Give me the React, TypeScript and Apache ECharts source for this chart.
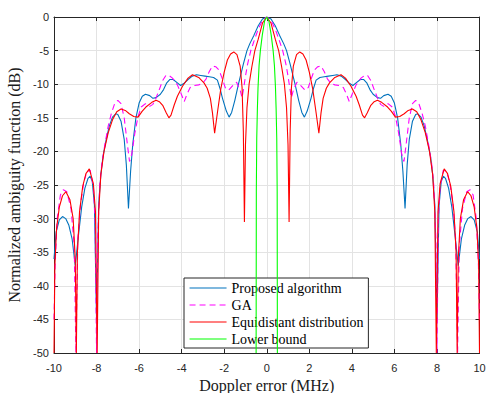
import React, { useEffect, useRef } from "react";
import * as echarts from "echarts";

const xTicks = { min: -10, max: 10, interval: 2 };
const yTicks = { min: -50, max: 0, interval: 5 };

const seriesNames = [
  "Proposed algorithm",
  "GA",
  "Equidistant distribution",
  "Lower bound",
];

const proposed: number[][] = [
  [-10.0, -36.0], [-9.9, -32.0], [-9.75, -30.2], [-9.6, -29.7], [-9.45, -30.0], [-9.3, -31.0], [-9.15, -33.0],
  [-9.0, -37.0], [-8.85, -32.5], [-8.7, -28.3], [-8.55, -25.5], [-8.4, -24.0], [-8.3, -23.7], [-8.2, -24.5],
  [-8.1, -28.0], [-8.0, -45.0], [-7.9, -28.0], [-7.8, -23.5], [-7.7, -20.8], [-7.55, -18.3], [-7.4, -16.2],
  [-7.25, -14.9], [-7.1, -14.4], [-7.0, -14.5], [-6.85, -15.5], [-6.7, -18.2], [-6.6, -22.0], [-6.5, -28.5],
  [-6.4, -23.0], [-6.3, -19.0], [-6.15, -15.0], [-6.0, -12.8], [-5.85, -11.8], [-5.7, -11.5], [-5.5, -11.7],
  [-5.35, -12.1], [-5.2, -12.0], [-5.0, -11.5], [-4.85, -10.8], [-4.7, -9.8], [-4.55, -9.3], [-4.4, -9.3],
  [-4.2, -9.8], [-4.05, -10.2], [-3.9, -9.9], [-3.7, -9.3], [-3.5, -8.8], [-3.3, -8.6], [-3.1, -8.7],
  [-2.9, -8.8], [-2.7, -8.9], [-2.5, -9.0], [-2.32, -9.4], [-2.2, -10.6], [-2.08, -12.1], [-1.9, -14.0],
  [-1.77, -14.9], [-1.65, -14.2], [-1.5, -12.4], [-1.33, -10.0], [-1.1, -7.0], [-0.93, -5.0], [-0.8, -4.0],
  [-0.6, -2.7], [-0.4, -1.3], [-0.2, -0.3],
  [0, 0],
  [0.2, -0.3], [0.4, -1.3], [0.6, -2.7], [0.8, -4.0], [0.93, -5.0], [1.1, -7.0], [1.33, -10.0], [1.5, -12.4],
  [1.65, -14.2], [1.77, -14.9], [1.9, -14.0], [2.08, -12.1], [2.2, -10.6], [2.32, -9.4], [2.5, -9.0],
  [2.7, -8.9], [2.9, -8.8], [3.1, -8.7], [3.3, -8.6], [3.5, -8.8], [3.7, -9.3], [3.9, -9.9], [4.05, -10.2],
  [4.2, -9.8], [4.4, -9.3], [4.55, -9.3], [4.7, -9.8], [4.85, -10.8], [5.0, -11.5], [5.2, -12.0],
  [5.35, -12.1], [5.5, -11.7], [5.7, -11.5], [5.85, -11.8], [6.0, -12.8], [6.15, -15.0], [6.3, -19.0],
  [6.4, -23.0], [6.5, -28.5], [6.6, -22.0], [6.7, -18.2], [6.85, -15.5], [7.0, -14.5], [7.1, -14.4],
  [7.25, -14.9], [7.4, -16.2], [7.55, -18.3], [7.7, -20.8], [7.8, -23.5], [7.9, -28.0], [8.0, -45.0],
  [8.1, -28.0], [8.2, -24.5], [8.3, -23.7], [8.4, -24.0], [8.55, -25.5], [8.7, -28.3], [8.85, -32.5],
  [9.0, -37.0], [9.15, -33.0], [9.3, -31.0], [9.45, -30.0], [9.6, -29.7], [9.75, -30.2], [9.9, -32.0],
  [10.0, -36.0],
];

const ga: number[][] = [
  [-10.0, -45.0], [-9.95, -37.0], [-9.85, -30.0], [-9.7, -26.5], [-9.56, -25.7], [-9.4, -26.0], [-9.2, -28.5],
  [-9.05, -34.0], [-8.97, -50.0], [-8.88, -33.0], [-8.75, -27.8], [-8.6, -24.6], [-8.45, -23.0], [-8.3, -22.8],
  [-8.15, -25.2], [-8.07, -30.0], [-8.0, -50.0], [-7.95, -33.0], [-7.85, -25.0], [-7.75, -21.8], [-7.6, -18.8],
  [-7.45, -16.2], [-7.3, -14.3], [-7.15, -12.9], [-7.0, -12.4], [-6.85, -12.9], [-6.7, -15.0], [-6.55, -19.0],
  [-6.45, -21.5], [-6.35, -20.5], [-6.2, -17.3], [-6.05, -14.8], [-5.9, -13.4], [-5.7, -12.9], [-5.5, -13.3],
  [-5.35, -13.0], [-5.2, -12.0], [-5.05, -10.8], [-4.9, -9.5], [-4.74, -8.7], [-4.6, -8.7], [-4.43, -9.1],
  [-4.2, -10.1], [-4.0, -11.6], [-3.88, -12.6], [-3.75, -11.5], [-3.6, -10.5], [-3.41, -10.2], [-3.2, -10.1],
  [-3.02, -9.9], [-2.85, -9.2], [-2.7, -8.1], [-2.55, -7.3], [-2.4, -7.4], [-2.24, -7.9], [-2.1, -9.1],
  [-1.95, -10.5], [-1.8, -10.9], [-1.6, -10.2], [-1.42, -9.7], [-1.25, -10.9], [-1.16, -12.0], [-1.08, -10.5],
  [-1.0, -8.8], [-0.9, -7.0], [-0.75, -5.0], [-0.6, -3.6], [-0.4, -1.8], [-0.2, -0.5],
  [0, 0],
  [0.2, -0.5], [0.4, -1.8], [0.6, -3.6], [0.75, -5.0], [0.9, -7.0], [1.0, -8.8], [1.08, -10.5], [1.16, -12.0],
  [1.25, -10.9], [1.42, -9.7], [1.6, -10.2], [1.8, -10.9], [1.95, -10.5], [2.1, -9.1], [2.24, -7.9],
  [2.4, -7.4], [2.55, -7.3], [2.7, -8.1], [2.85, -9.2], [3.02, -9.9], [3.2, -10.1], [3.41, -10.2],
  [3.6, -10.5], [3.75, -11.5], [3.88, -12.6], [4.0, -11.6], [4.2, -10.1], [4.43, -9.1], [4.6, -8.7],
  [4.74, -8.7], [4.9, -9.5], [5.05, -10.8], [5.2, -12.0], [5.35, -13.0], [5.5, -13.3], [5.7, -12.9],
  [5.9, -13.4], [6.05, -14.8], [6.2, -17.3], [6.35, -20.5], [6.45, -21.5], [6.55, -19.0], [6.7, -15.0],
  [6.85, -12.9], [7.0, -12.4], [7.15, -12.9], [7.3, -14.3], [7.45, -16.2], [7.6, -18.8], [7.75, -21.8],
  [7.85, -25.0], [7.95, -33.0], [8.0, -50.0], [8.07, -30.0], [8.15, -25.2], [8.3, -22.8], [8.45, -23.0],
  [8.6, -24.6], [8.75, -27.8], [8.88, -33.0], [8.97, -50.0], [9.05, -34.0], [9.2, -28.5], [9.4, -26.0],
  [9.56, -25.7], [9.7, -26.5], [9.85, -30.0], [9.95, -37.0], [10.0, -45.0],
];

const equidistant: number[][] = [
  [-10.0, -50.0], [-9.96, -37.0], [-9.88, -31.5], [-9.75, -28.3], [-9.6, -26.6], [-9.44, -26.0], [-9.25, -27.2],
  [-9.1, -30.0], [-9.0, -36.0], [-8.95, -50.0], [-8.9, -35.0], [-8.8, -29.0], [-8.65, -25.2], [-8.5, -23.3],
  [-8.34, -22.6], [-8.15, -24.8], [-8.05, -29.0], [-7.97, -50.0], [-7.9, -29.0], [-7.8, -23.5], [-7.65, -20.0],
  [-7.45, -17.2], [-7.25, -15.3], [-7.05, -14.1], [-6.85, -13.7], [-6.65, -13.9], [-6.46, -14.4], [-6.25, -14.8],
  [-6.05, -14.9], [-5.85, -14.0], [-5.68, -13.4], [-5.4, -12.7], [-5.2, -12.4], [-5.05, -12.6], [-4.88, -13.2],
  [-4.72, -14.3], [-4.6, -15.0], [-4.5, -14.6], [-4.35, -13.1], [-4.2, -11.8], [-3.96, -10.3], [-3.7, -9.1],
  [-3.49, -8.6], [-3.2, -9.0], [-2.95, -9.8], [-2.8, -10.6], [-2.65, -12.1], [-2.55, -14.3], [-2.45, -17.3],
  [-2.3, -13.8], [-2.16, -10.7], [-2.0, -8.2], [-1.85, -6.4], [-1.7, -5.5], [-1.55, -5.2], [-1.4, -5.6],
  [-1.25, -7.3], [-1.16, -10.5], [-1.1, -17.0], [-1.05, -30.5], [-1.0, -19.0], [-0.93, -13.5], [-0.83, -10.0],
  [-0.7, -7.4], [-0.56, -5.0], [-0.4, -3.3], [-0.2, -0.9],
  [0, 0],
  [0.2, -0.9], [0.4, -3.3], [0.56, -5.0], [0.7, -7.4], [0.83, -10.0], [0.93, -13.5], [1.0, -19.0],
  [1.05, -30.5], [1.1, -17.0], [1.16, -10.5], [1.25, -7.3], [1.4, -5.6], [1.55, -5.2], [1.7, -5.5],
  [1.85, -6.4], [2.0, -8.2], [2.16, -10.7], [2.3, -13.8], [2.45, -17.3], [2.55, -14.3], [2.65, -12.1],
  [2.8, -10.6], [2.95, -9.8], [3.2, -9.0], [3.49, -8.6], [3.7, -9.1], [3.96, -10.3], [4.2, -11.8],
  [4.35, -13.1], [4.5, -14.6], [4.6, -15.0], [4.72, -14.3], [4.88, -13.2], [5.05, -12.6], [5.2, -12.4],
  [5.4, -12.7], [5.68, -13.4], [5.85, -14.0], [6.05, -14.9], [6.25, -14.8], [6.46, -14.4], [6.65, -13.9],
  [6.85, -13.7], [7.05, -14.1], [7.25, -15.3], [7.45, -17.2], [7.65, -20.0], [7.8, -23.5], [7.9, -29.0],
  [7.97, -50.0], [8.05, -29.0], [8.15, -24.8], [8.34, -22.6], [8.5, -23.3], [8.65, -25.2], [8.8, -29.0],
  [8.9, -35.0], [8.95, -50.0], [9.0, -36.0], [9.1, -30.0], [9.25, -27.2], [9.44, -26.0], [9.6, -26.6],
  [9.75, -28.3], [9.88, -31.5], [9.96, -37.0], [10.0, -50.0],
];

const lowerBound: number[][] = [
  [-0.5, -50.0], [-0.49, -26.0], [-0.47, -18.0], [-0.44, -13.6], [-0.41, -10.5], [-0.36, -7.2], [-0.3, -5.0],
  [-0.21, -2.7], [-0.1, -0.6], [0, 0], [0.1, -0.6], [0.21, -2.7], [0.3, -5.0], [0.36, -7.2], [0.41, -10.5],
  [0.44, -13.6], [0.47, -18.0], [0.49, -26.0], [0.5, -50.0],
];

const colors = ["#0072BD", "#FF00FF", "#FF0000", "#00FF00"];

export default function App() {
  const ref = useRef<HTMLDivElement>(null);

  useEffect(() => {
    if (!ref.current) return;
    const chart = echarts.init(ref.current, null, { renderer: "svg" });
    const axisColor = "#262626";
    const tickLabel = { color: axisColor, fontSize: 11, fontFamily: "Liberation Sans" };
    const nameStyle = { color: "#1a1a1a", fontSize: 16, fontFamily: "Liberation Serif" };
    const datasets = [proposed, ga, equidistant, lowerBound];

    chart.setOption({
      animation: false,
      backgroundColor: "#ffffff",
      grid: { left: 54, right: 9.5, top: 17, bottom: 40, containLabel: false, outerBoundsMode: "none" },
      legend: {
        data: seriesNames,
        orient: "vertical",
        left: 184,
        top: 278,
        itemWidth: 37,
        itemHeight: 10,
        itemGap: 3,
        padding: [3, 5, 2, 5],
        borderColor: axisColor,
        borderWidth: 1,
        borderRadius: 0,
        backgroundColor: "#ffffff",
        itemStyle: { opacity: 0 },
        lineStyle: { width: 1.1 },
        textStyle: { color: "#000", fontSize: 14, fontFamily: "Liberation Serif", lineHeight: 14 },
      },
      xAxis: [
        {
          type: "value",
          position: "bottom",
          ...xTicks,
          name: "Doppler error (MHz)",
          nameLocation: "middle",
          nameGap: 20,
          nameTextStyle: { ...nameStyle, lineHeight: 16 },
          axisLine: { show: true, onZero: false, lineStyle: { color: axisColor, width: 1 } },
          axisTick: { show: true, inside: true, length: 4, lineStyle: { color: axisColor } },
          axisLabel: { ...tickLabel, margin: 9 },
          splitLine: { show: true, lineStyle: { color: "#e3e3e3", width: 1 } },
        },
        {
          type: "value",
          position: "top",
          ...xTicks,
          axisLine: { show: true, onZero: false, lineStyle: { color: axisColor, width: 1 } },
          axisTick: { show: true, inside: true, length: 4, lineStyle: { color: axisColor } },
          axisLabel: { show: false },
          splitLine: { show: false },
        },
      ],
      yAxis: [
        {
          type: "value",
          position: "left",
          ...yTicks,
          name: "Normalized ambiguity function (dB)",
          nameLocation: "middle",
          nameGap: 28,
          nameTextStyle: nameStyle,
          axisLine: { show: true, onZero: false, lineStyle: { color: axisColor, width: 1 } },
          axisTick: { show: true, inside: true, length: 4, lineStyle: { color: axisColor } },
          axisLabel: { ...tickLabel, margin: 5 },
          splitLine: { show: true, lineStyle: { color: "#e3e3e3", width: 1 } },
        },
        {
          type: "value",
          position: "right",
          ...yTicks,
          axisLine: { show: true, onZero: false, lineStyle: { color: axisColor, width: 1 } },
          axisTick: { show: true, inside: true, length: 4, lineStyle: { color: axisColor } },
          axisLabel: { show: false },
          splitLine: { show: false },
        },
      ],
      series: seriesNames.map((name, i) => ({
        name,
        type: "line",
        xAxisIndex: 0,
        yAxisIndex: 0,
        data: datasets[i],
        symbol: "none",
        smooth: false,
        z: 2 + i,
        color: colors[i],
        lineStyle: {
          color: colors[i],
          width: 1.1,
          type: i === 1 ? [6, 4] : "solid",
        },
      })),
    });

    return () => chart.dispose();
  }, []);

  return (
    <div
      ref={ref}
      style={{ position: "fixed", left: 0, top: 0, width: 489, height: 393 }}
    />
  );
}
